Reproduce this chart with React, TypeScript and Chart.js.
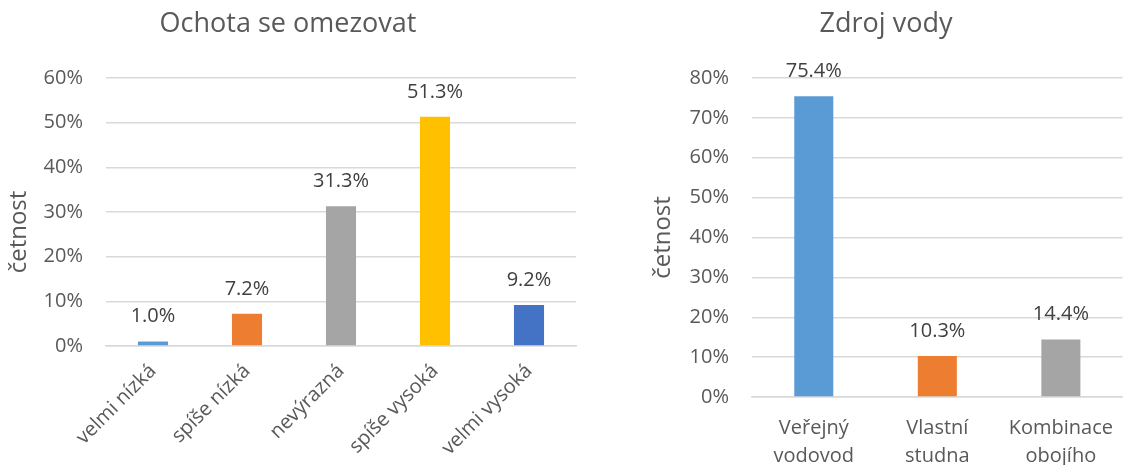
import React, { useEffect, useRef } from "react";
import { Chart, registerables } from "chart.js";

Chart.register(...registerables);

const FONT = "'Open Sans', sans-serif";

const yAxisTitle = "četnost";

const leftTitle = "Ochota se omezovat";
const leftCategories = ["velmi nízká", "spíše nízká", "nevýrazná", "spíše vysoká", "velmi vysoká"];
const leftValues = [1.0, 7.2, 31.3, 51.3, 9.2];
const leftColors = ["#5B9BD5", "#ED7D31", "#A5A5A5", "#FFC000", "#4472C4"];
const leftMax = 60;

const rightTitle = "Zdroj vody";
const rightCategories = [["Veřejný", "vodovod"], ["Vlastní", "studna"], ["Kombinace", "obojího"]];
const rightValues = [75.4, 10.3, 14.4];
const rightColors = ["#5B9BD5", "#ED7D31", "#A5A5A5"];
const rightMax = 80;

const valueLabels = {
  id: "valueLabels",
  afterDatasetsDraw(chart: any) {
    const ctx = chart.ctx;
    const meta = chart.getDatasetMeta(0);
    const ds = chart.data.datasets[0];
    ctx.save();
    ctx.font = `20px ${FONT}`;
    ctx.fillStyle = "#404040";
    ctx.textAlign = "center";
    ctx.textBaseline = "middle";
    meta.data.forEach((bar: any, i: number) => {
      const v = ds.data[i] as number;
      ctx.fillText(`${v.toFixed(1)}%`, bar.x, bar.y - 25);
    });
    ctx.restore();
  },
};

const yTitle = {
  id: "yTitle",
  afterDraw(chart: any, _args: any, opts: any) {
    const { ctx, chartArea } = chart;
    ctx.save();
    ctx.translate(opts.x, (chartArea.top + chartArea.bottom) / 2 + opts.dy);
    ctx.rotate(-Math.PI / 2);
    ctx.font = `24px ${FONT}`;
    ctx.fillStyle = "#595959";
    ctx.textAlign = "center";
    ctx.textBaseline = "middle";
    ctx.fillText(opts.text, 0, 0);
    ctx.restore();
  },
};

type Props = {
  title: string;
  labels: any[];
  values: number[];
  colors: string[];
  yMax: number;
  width: number;
  rotate: number;
  yWidth: number;
  xHeight: number;
  xPad: number;
  padLeft: number;
  padRight: number;
  barPct: number;
  titleX: number;
  titleDy: number;
};

function BarChart(p: Props) {
  const ref = useRef<HTMLCanvasElement>(null);
  useEffect(() => {
    if (!ref.current) return;
    const chart = new Chart(ref.current, {
      type: "bar",
      data: {
        labels: p.labels,
        datasets: [
          {
            data: p.values,
            backgroundColor: p.colors,
            borderWidth: 0,
            barPercentage: p.barPct,
            categoryPercentage: 1,
          },
        ],
      },
      plugins: [valueLabels, yTitle],
      options: {
        responsive: false,
        animation: false,
        devicePixelRatio: 1,
        layout: { padding: { left: p.padLeft, right: p.padRight, top: 0, bottom: 0 } },
        plugins: {
          legend: { display: false },
          tooltip: { enabled: false },
          title: {
            display: true,
            text: p.title,
            color: "#595959",
            font: { family: FONT, size: 27, weight: "normal" },
            padding: { top: 8, bottom: 37.6 },
          },
          yTitle: { text: yAxisTitle, x: p.titleX, dy: p.titleDy },
        } as any,
        scales: {
          x: {
            grid: { display: false, drawTicks: false },
            border: { display: true, color: "#D9D9D9", width: 1.5 },
            ticks: {
              color: "#595959",
              font: { family: FONT, size: 20, lineHeight: 1.4 },
              minRotation: p.rotate,
              maxRotation: p.rotate,
              autoSkip: false,
              padding: p.xPad,
            },
            afterFit: (s: any) => {
              s.height = p.xHeight;
            },
          },
          y: {
            min: 0,
            max: p.yMax,
            grid: { color: "#D9D9D9", lineWidth: 1.5, drawTicks: false },
            border: { display: false },
            ticks: {
              stepSize: 10,
              color: "#595959",
              font: { family: FONT, size: 20 },
              padding: 23,
              callback: (v: any) => `${v}%`,
            },
            afterFit: (s: any) => {
              s.width = p.yWidth;
            },
          },
        },
      },
    });
    return () => chart.destroy();
  }, []);
  return <canvas ref={ref} width={p.width} height={465} />;
}

export default function App() {
  return (
    <div style={{ position: "fixed", left: 0, top: 0, width: 1130, height: 465, background: "#fff" }}>
      <div style={{ position: "absolute", left: 0, top: 0, width: 580, height: 465 }}>
        <BarChart
          title={leftTitle}
          labels={leftCategories}
          values={leftValues}
          colors={leftColors}
          yMax={leftMax}
          width={580}
          rotate={45}
          yWidth={106}
          xHeight={119}
          xPad={12}
          padLeft={0}
          padRight={4}
          barPct={0.32}
          titleX={19}
          titleDy={20}
        />
      </div>
      <div style={{ position: "absolute", left: 630, top: 0, width: 500, height: 465 }}>
        <BarChart
          title={rightTitle}
          labels={rightCategories}
          values={rightValues}
          colors={rightColors}
          yMax={rightMax}
          width={500}
          rotate={0}
          yWidth={110}
          xHeight={68}
          xPad={17}
          padLeft={12}
          padRight={0}
          barPct={0.316}
          titleX={33}
          titleDy={0}
        />
      </div>
    </div>
  );
}
